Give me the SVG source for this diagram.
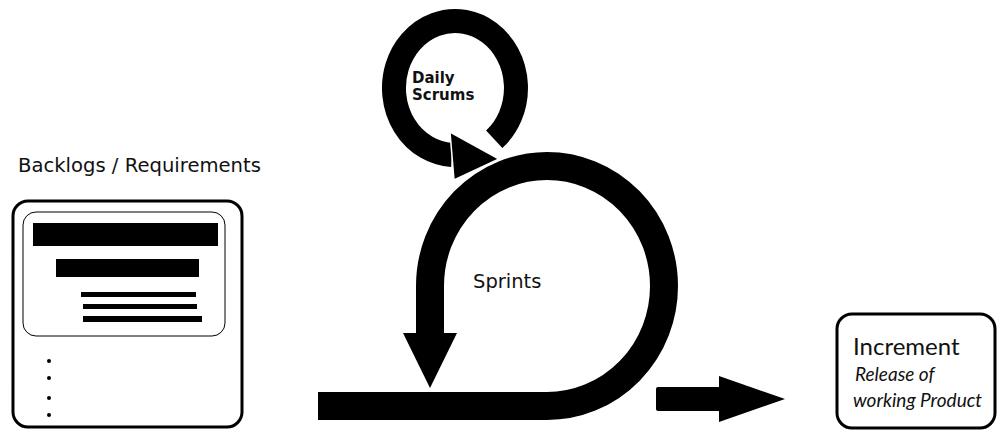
<svg xmlns="http://www.w3.org/2000/svg" width="998" height="430" viewBox="0 0 998 430">
  <style>
    .sans { font-family: "DejaVu Sans", Verdana, sans-serif; fill: #111; }
    .cal { font-family: Lato, "Open Sans", sans-serif; fill: #111; }
    .blk { fill: #000; }
    .loop { fill: none; stroke: #000; stroke-linecap: butt; }
    .halo { fill: none; stroke: #fff; stroke-linecap: butt; }
    .box { fill: #fff; stroke: #000; }
  </style>
  <rect width="998" height="430" fill="#fff"/>

  <g id="backlog">
    <text class="sans" x="18" y="172" font-size="19.6">Backlogs / Requirements</text>
    <rect class="box" x="13" y="201" width="229" height="226" rx="15" stroke-width="3"/>
    <rect class="box" x="23" y="212" width="202" height="124" rx="13" stroke-width="1"/>
    <rect class="blk" x="33" y="223" width="185" height="23"/>
    <rect class="blk" x="56" y="259" width="143" height="18"/>
    <rect class="blk" x="81" y="292" width="115" height="5"/>
    <rect class="blk" x="83" y="304" width="114" height="5"/>
    <rect class="blk" x="83" y="316" width="119" height="6"/>
    <circle class="blk" cx="49" cy="361" r="2"/>
    <circle class="blk" cx="49" cy="378" r="2"/>
    <circle class="blk" cx="49" cy="398" r="2"/>
    <circle class="blk" cx="49" cy="415" r="2"/>
  </g>

  <g id="daily-scrums">
    <path class="loop" stroke-width="24" d="M 494.2 139.3 A 61 67 0 1 0 451.8 154.9"/>
    <polygon class="blk" points="450,132 454,180 499,159" stroke="#fff" stroke-width="1.5"/>
    <text class="sans" font-weight="bold" font-size="15" x="412" y="83">Daily</text>
    <text class="sans" font-weight="bold" font-size="15" x="412" y="100">Scrums</text>
  </g>

  <g id="sprints">
    <path class="halo" stroke-width="33" d="M 430 286 A 117 120 0 0 1 547 166 A 117 120 0 0 1 600 178"/>
    <path class="loop" stroke-width="28" d="M 318 406 H 547 A 117 120 0 0 0 664 286 A 117 120 0 0 0 547 166 A 117 120 0 0 0 430 286 V 335"/>
    <polygon class="blk" points="403,333 457,333 430,388"/>
    <text class="sans" x="473" y="288" font-size="19.5">Sprints</text>
  </g>

  <g id="connectors">
    <rect class="blk" x="656" y="387" width="65" height="24" rx="2"/>
    <polygon class="blk" points="719,376 719,422 785,399"/>
  </g>

  <g id="increment">
    <rect class="box" x="837" y="314" width="158" height="114" rx="15" stroke-width="3"/>
    <text class="cal" x="853" y="355" font-size="24">Increment</text>
    <text class="cal" x="855" y="381" font-size="19" font-style="italic">Release of</text>
    <text class="cal" x="853" y="407" font-size="19" font-style="italic">working Product</text>
  </g>
</svg>
